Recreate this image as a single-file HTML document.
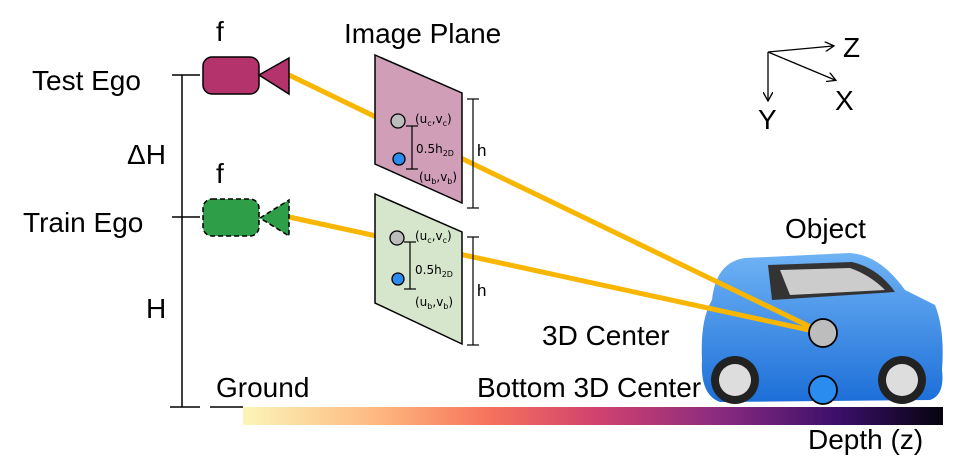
<!DOCTYPE html>
<html><head><meta charset="utf-8"><style>
body{margin:0;background:#fff}
svg{display:block;font-family:"Liberation Sans",sans-serif}
</style></head><body>
<svg width="955" height="471" viewBox="0 0 955 471" xmlns="http://www.w3.org/2000/svg">
<defs>
<linearGradient id="mg" x1="0" x2="1" y1="0" y2="0">
<stop offset="0" stop-color="#fcf5b8"/>
<stop offset="0.2" stop-color="#fdb57e"/>
<stop offset="0.35" stop-color="#f6735c"/>
<stop offset="0.5" stop-color="#d3436e"/>
<stop offset="0.68" stop-color="#8a2b7f"/>
<stop offset="0.85" stop-color="#3b0f6a"/>
<stop offset="1" stop-color="#05040f"/>
</linearGradient>
<linearGradient id="car" x1="0" x2="0" y1="0" y2="1">
<stop offset="0" stop-color="#6fb3f5"/>
<stop offset="1" stop-color="#1d6fd8"/>
</linearGradient>
<marker id="ah" markerWidth="10" markerHeight="10" refX="8" refY="5" orient="auto" markerUnits="userSpaceOnUse"><path d="M0,0 L9,5 L0,10" fill="none" stroke="#000" stroke-width="1.3"/></marker>
</defs>
<g stroke="#000" stroke-width="1.5">
<line x1="182" y1="75" x2="182" y2="407"/>
<line x1="172" y1="75" x2="200" y2="75"/>
<line x1="172" y1="217" x2="200" y2="217"/>
<line x1="170" y1="407" x2="200" y2="407"/>
<line x1="210" y1="407" x2="243" y2="407"/>
</g>
<rect x="243" y="407" width="700" height="18" fill="url(#mg)"/>
<g>
<path d="M712,300 Q716,262 745,258 L850,253 Q880,255 905,290 L935,305 Q945,330 942,370 Q945,395 930,400 L720,402 Q700,395 702,360 Q700,320 712,300Z" fill="url(#car)"/>
<path d="M768,265 L852,262 Q878,268 895,292 L772,300Z" fill="#333"/>
<path d="M780,270 L850,268 Q870,275 885,290 L790,295Z" fill="#ccc"/>
<circle cx="735" cy="380" r="24" fill="#222"/><circle cx="735" cy="380" r="16" fill="#ddd"/>
<circle cx="902" cy="380" r="24" fill="#222"/><circle cx="902" cy="380" r="16" fill="#ddd"/>
</g>
<g font-size="28" fill="#000">
<text x="32" y="90">Test Ego</text>
<text x="23" y="232">Train Ego</text>
<text x="127" y="164">ΔH</text>
<text x="146" y="318">H</text>
<text x="216" y="397">Ground</text>
<text x="216" y="41">f</text>
<text x="216" y="183">f</text>
<text x="344" y="43">Image Plane</text>
<text x="785" y="238">Object</text>
<text x="542" y="345">3D Center</text>
<text x="477" y="397">Bottom 3D Center</text>
<text x="808" y="449">Depth (z)</text>
<text x="843" y="57">Z</text>
<text x="835" y="110">X</text>
<text x="758" y="129">Y</text>
</g>
<g stroke="#000" stroke-width="1.3">
<line x1="768" y1="52" x2="833" y2="46" marker-end="url(#ah)"/>
<line x1="768" y1="52" x2="835" y2="80" marker-end="url(#ah)"/>
<line x1="768" y1="52" x2="768" y2="100" marker-end="url(#ah)"/>
</g>
<g stroke="#f8b600" stroke-width="5">
<line x1="289" y1="75" x2="823" y2="333"/>
<line x1="289" y1="217" x2="823" y2="333"/>
</g>
<polygon points="375,55 462,93 462,203 375,164" fill="#d09fb7" stroke="#000" stroke-width="1.5"/>
<polygon points="375,194 462,232 462,344 375,303" fill="#d6e6cd" stroke="#000" stroke-width="1.5"/>
<g stroke="#000" stroke-width="1.2">
<line x1="473" y1="99" x2="473" y2="208"/><line x1="467" y1="99" x2="479" y2="99"/><line x1="467" y1="208" x2="479" y2="208"/>
<line x1="473" y1="237" x2="473" y2="345"/><line x1="467" y1="237" x2="479" y2="237"/><line x1="467" y1="345" x2="479" y2="345"/>
<line x1="412" y1="126" x2="412" y2="169"/><line x1="406" y1="126" x2="418" y2="126"/><line x1="406" y1="169" x2="418" y2="169"/>
<line x1="410" y1="242" x2="410" y2="289"/><line x1="404" y1="242" x2="416" y2="242"/><line x1="404" y1="289" x2="416" y2="289"/>
</g>
<g font-size="17"><text x="477" y="156">h</text><text x="477" y="296">h</text></g>
<g font-size="12" font-family="DejaVu Sans,sans-serif">
<text x="415" y="123">(u<tspan font-size="8" dy="3">c</tspan><tspan dy="-3">,v</tspan><tspan font-size="8" dy="3">c</tspan><tspan dy="-3">)</tspan></text>
<text x="416" y="153">0.5h<tspan font-size="8" dy="3">2D</tspan></text>
<text x="419" y="181">(u<tspan font-size="8" dy="3">b</tspan><tspan dy="-3">,v</tspan><tspan font-size="8" dy="3">b</tspan><tspan dy="-3">)</tspan></text>
<text x="415" y="240">(u<tspan font-size="8" dy="3">c</tspan><tspan dy="-3">,v</tspan><tspan font-size="8" dy="3">c</tspan><tspan dy="-3">)</tspan></text>
<text x="415" y="274">0.5h<tspan font-size="8" dy="3">2D</tspan></text>
<text x="415" y="306">(u<tspan font-size="8" dy="3">b</tspan><tspan dy="-3">,v</tspan><tspan font-size="8" dy="3">b</tspan><tspan dy="-3">)</tspan></text>
</g>
<g stroke="#000" stroke-width="1.3">
<circle cx="398" cy="121" r="7" fill="#bdbdbd"/>
<circle cx="399" cy="159" r="6" fill="#2b8cf0"/>
<circle cx="397" cy="238" r="7" fill="#bdbdbd"/>
<circle cx="398" cy="279" r="6" fill="#2b8cf0"/>
<circle cx="823" cy="333" r="14" fill="#bdbdbd" stroke-width="1.8"/>
<circle cx="823" cy="390" r="14" fill="#2b8cf0" stroke-width="1.8"/>
</g>
<g stroke="#000" stroke-width="1.5">
<rect x="203" y="57" width="56" height="37" rx="9" fill="#b5336d"/>
<polygon points="259,75 289,58 289,94" fill="#b5336d"/>
<rect x="203" y="199" width="56" height="37" rx="9" fill="#2e9e48" stroke-dasharray="5,3"/>
<polygon points="260,218 289,200 289,236" fill="#2e9e48" stroke-dasharray="5,3"/>
</g>
</svg>
</body></html>
